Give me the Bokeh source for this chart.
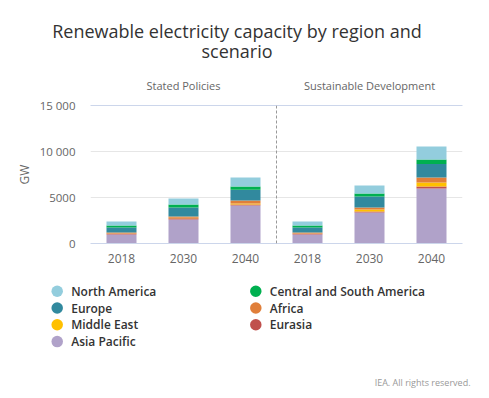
from bokeh.plotting import figure
from bokeh.layouts import column
from bokeh.models import (Range1d, Span, LinearAxis, FixedTicker, ColumnDataSource)
from bokeh.core.properties import value
from bokeh.embed import file_html
from bokeh.resources import INLINE

FONT = "Open Sans"
FONT_SEMI = "Open Sans SemiBold, Open Sans"
W, H = 489, 398

# ---- data (GW) ----
years = ["2018", "2030", "2040", "2018", "2030", "2040"]
scenarios = ["Stated Policies", "Sustainable Development"]

asia_pacific = [980, 2610, 4130, 980, 3370, 5980]
eurasia = [110, 145, 110, 110, 110, 220]
middle_east = [30, 40, 110, 30, 220, 430]
africa = [80, 140, 330, 80, 220, 540]
europe = [540, 980, 1160, 540, 1190, 1480]
cs_america = [220, 330, 360, 220, 330, 470]
north_america = [430, 650, 980, 430, 870, 1410]

series_names = ["Asia Pacific", "Eurasia", "Middle East", "Africa", "Europe",
                "Central and South America", "North America"]
series_values = [asia_pacific, eurasia, middle_east, africa, europe, cs_america, north_america]
series_colors = ["#b0a2c9", "#c0504d", "#ffc000", "#e07f3a", "#31899e", "#00b050", "#93cddd"]

y_ticks = [0, 5000, 10000, 15000]
y_tick_labels = ["0", "5000", "10 000", "15 000"]

title_lines = ["Renewable electricity capacity by region and", "scenario"]
credit = "IEA. All rights reserved."
legend_order = ["North America", "Europe", "Middle East", "Asia Pacific",
                "Central and South America", "Africa", "Eurasia"]

# ---- layout constants (pixels) ----
HEAD_H = 74
TOP_B, FRAME_H, BOT_B = 30, 139, 27
LEFT_B, RIGHT_B = 90, 27
MAIN_H = TOP_B + FRAME_H + BOT_B
LEG_TOP = HEAD_H + MAIN_H
LEG_H = H - LEG_TOP


def blank_fig(h):
    f = figure(width=W, height=h, x_range=Range1d(0, W), y_range=Range1d(h, 0),
               x_axis_location=None, y_axis_location=None,
               output_backend="svg", toolbar_location=None, min_border=0,
               frame_align=False)
    f.grid.visible = False
    f.outline_line_color = None
    return f


# ---- header (title) ----
head = blank_fig(HEAD_H)
head.text(x=[236.5, 236.5], y=[30.5, 50.5], text=title_lines, text_align="center",
          text_baseline="alphabetic", text_font=value(FONT), text_font_size="18px",
          text_color="#333333")

# ---- main chart ----
xpos = [i + 0.5 for i in range(len(years))]
n_per_scn = len(years) // len(scenarios)
scn_centers = [n_per_scn * (k + 0.5) for k in range(len(scenarios))]

p = figure(width=W, height=MAIN_H,
           x_range=Range1d(0, len(years)), y_range=Range1d(0, 15000),
           output_backend="svg", toolbar_location=None,
           min_border_left=LEFT_B, min_border_right=RIGHT_B,
           min_border_top=TOP_B, min_border_bottom=BOT_B, frame_align=False)
p.outline_line_color = None

data = {"x": xpos}
for n, v in zip(series_names, series_values):
    data[n] = v
src = ColumnDataSource(data)
p.vbar_stack(series_names, x="x", width=0.484, color=series_colors,
             line_color=None, source=src)

p.xgrid.grid_line_color = None
p.ygrid.ticker = FixedTicker(ticks=y_ticks[1:-1])
p.ygrid.grid_line_color = "#e6e6e6"

p.yaxis.ticker = FixedTicker(ticks=y_ticks)
p.yaxis.major_label_overrides = {t: l for t, l in zip(y_ticks, y_tick_labels)}
p.yaxis.axis_line_color = None
p.yaxis.major_tick_line_color = None
p.yaxis.minor_tick_line_color = None
p.yaxis.major_tick_out = 0
p.yaxis.major_tick_in = 0
p.yaxis.major_label_standoff = 15
p.yaxis.major_label_text_font = FONT
p.yaxis.major_label_text_font_size = "11.5px"
p.yaxis.major_label_text_color = "#666666"
p.yaxis.axis_label = "GW"
p.yaxis.axis_label_standoff = 4
p.yaxis.axis_label_text_font = FONT
p.yaxis.axis_label_text_font_size = "12px"
p.yaxis.axis_label_text_font_style = "normal"
p.yaxis.axis_label_text_color = "#666666"

p.xaxis.ticker = FixedTicker(ticks=xpos)
p.xaxis.major_label_overrides = {x: y for x, y in zip(xpos, years)}
p.xaxis.axis_line_color = "#ccd6eb"
p.xaxis.major_tick_line_color = None
p.xaxis.minor_tick_line_color = None
p.xaxis.major_tick_out = 0
p.xaxis.major_tick_in = 0
p.xaxis.major_label_standoff = 10
p.xaxis.major_label_text_font = FONT
p.xaxis.major_label_text_font_size = "12px"
p.xaxis.major_label_text_color = "#666666"

top = LinearAxis(ticker=FixedTicker(ticks=scn_centers),
                 major_label_overrides={c: s for c, s in zip(scn_centers, scenarios)},
                 axis_line_color="#ccd6eb", major_tick_line_color=None,
                 minor_tick_line_color=None, major_tick_out=0, major_tick_in=0,
                 major_label_standoff=13, major_label_text_font=FONT,
                 major_label_text_font_size="11px", major_label_text_color="#666666")
p.add_layout(top, "above")

p.add_layout(Span(location=n_per_scn, dimension="height", line_color="#999999",
                  line_width=1, line_dash="3 2"))

# ---- legend + credit ----
color_of = dict(zip(series_names, series_colors))
rows = 4
cx = [56.7 + 198.6 * (i // rows) for i in range(len(legend_order))]
cy = [290.7 + 16.8 * (i % rows) - LEG_TOP for i in range(len(legend_order))]
lg = blank_fig(LEG_H)
lg.scatter(x=cx, y=cy, size=11.5, marker="circle",
           fill_color=[color_of[n] for n in legend_order], line_color=None)
lg.text(x=[c + 14 for c in cx], y=cy, text=legend_order, text_align="left",
        text_baseline="middle", text_font=value(FONT_SEMI), text_font_size="12px",
        text_font_style="normal", text_color="#333333")
lg.text(x=[470], y=[382 - LEG_TOP], text=[credit], text_align="right",
        text_baseline="alphabetic", text_font=value(FONT), text_font_size="9px",
        text_color="#999999")

layout = column(head, p, lg, spacing=0)
open("out.html", "w").write(file_html(layout, INLINE))
